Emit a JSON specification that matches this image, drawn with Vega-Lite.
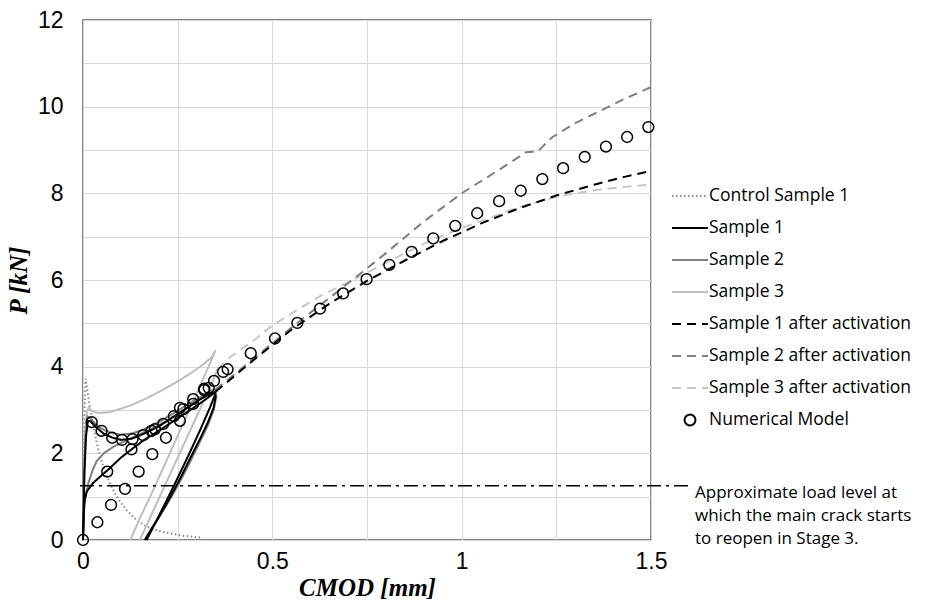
{
  "$schema": "https://vega.github.io/schema/vega-lite/v6.json",
  "width": 568,
  "height": 520,
  "autosize": {"type": "none"},
  "padding": {"left": 83, "top": 20, "right": 278, "bottom": 67},
  "background": "white",
  "config": {
    "view": {"stroke": "#595959", "strokeWidth": 1.5},
    "axis": {"labelFont": "Liberation Sans", "labelFontSize": 23, "labelColor": "#000", "ticks": false, "domain": false, "gridColor": "#d9d9d9", "gridWidth": 1, "titleColor": "#000"},
    "legend": {"labelFont": "Open Sans", "labelFontSize": 17.5, "labelColor": "#000", "labelLimit": 400}
  },
  "datasets": {
    "curves": [
      {"s":"Control Sample 1","p":"a","i":0,"x":0,"P":0},
      {"s":"Control Sample 1","p":"a","i":1,"x":0.002,"P":1.5},
      {"s":"Control Sample 1","p":"a","i":2,"x":0.004,"P":3.0},
      {"s":"Control Sample 1","p":"a","i":3,"x":0.007,"P":3.72},
      {"s":"Control Sample 1","p":"a","i":4,"x":0.01,"P":3.55},
      {"s":"Control Sample 1","p":"a","i":5,"x":0.018,"P":3.08},
      {"s":"Control Sample 1","p":"a","i":6,"x":0.03,"P":2.5},
      {"s":"Control Sample 1","p":"a","i":7,"x":0.04,"P":2.1},
      {"s":"Control Sample 1","p":"a","i":8,"x":0.055,"P":1.65},
      {"s":"Control Sample 1","p":"a","i":9,"x":0.071,"P":1.31},
      {"s":"Control Sample 1","p":"a","i":10,"x":0.09,"P":0.98},
      {"s":"Control Sample 1","p":"a","i":11,"x":0.115,"P":0.69},
      {"s":"Control Sample 1","p":"a","i":12,"x":0.14,"P":0.47},
      {"s":"Control Sample 1","p":"a","i":13,"x":0.168,"P":0.31},
      {"s":"Control Sample 1","p":"a","i":14,"x":0.2,"P":0.21},
      {"s":"Control Sample 1","p":"a","i":15,"x":0.23,"P":0.15},
      {"s":"Control Sample 1","p":"a","i":16,"x":0.27,"P":0.09},
      {"s":"Control Sample 1","p":"a","i":17,"x":0.31,"P":0.06},

      {"s":"Sample 3","p":"a","i":0,"x":0,"P":0},
      {"s":"Sample 3","p":"a","i":1,"x":0.003,"P":1.5},
      {"s":"Sample 3","p":"a","i":2,"x":0.006,"P":2.5},
      {"s":"Sample 3","p":"a","i":3,"x":0.01,"P":2.95},
      {"s":"Sample 3","p":"a","i":4,"x":0.015,"P":3.05},
      {"s":"Sample 3","p":"a","i":5,"x":0.025,"P":2.97},
      {"s":"Sample 3","p":"a","i":6,"x":0.04,"P":2.93},
      {"s":"Sample 3","p":"a","i":7,"x":0.07,"P":2.95},
      {"s":"Sample 3","p":"a","i":8,"x":0.1,"P":3.03},
      {"s":"Sample 3","p":"a","i":9,"x":0.13,"P":3.12},
      {"s":"Sample 3","p":"a","i":10,"x":0.17,"P":3.28},
      {"s":"Sample 3","p":"a","i":11,"x":0.21,"P":3.46},
      {"s":"Sample 3","p":"a","i":12,"x":0.25,"P":3.66},
      {"s":"Sample 3","p":"a","i":13,"x":0.29,"P":3.88},
      {"s":"Sample 3","p":"a","i":14,"x":0.32,"P":4.07},
      {"s":"Sample 3","p":"a","i":15,"x":0.34,"P":4.22},
      {"s":"Sample 3","p":"a","i":16,"x":0.35,"P":4.38},
      {"s":"Sample 3","p":"a","i":17,"x":0.331,"P":3.99},
      {"s":"Sample 3","p":"a","i":18,"x":0.3,"P":3.38},
      {"s":"Sample 3","p":"a","i":19,"x":0.26,"P":2.6},
      {"s":"Sample 3","p":"a","i":20,"x":0.22,"P":1.82},
      {"s":"Sample 3","p":"a","i":21,"x":0.18,"P":1.05},
      {"s":"Sample 3","p":"a","i":22,"x":0.15,"P":0.5},
      {"s":"Sample 3","p":"a","i":23,"x":0.125,"P":0},
      {"s":"Sample 3","p":"c","i":0,"x":0.15,"P":0},
      {"s":"Sample 3","p":"c","i":1,"x":0.2,"P":0.95},
      {"s":"Sample 3","p":"c","i":2,"x":0.25,"P":1.9},
      {"s":"Sample 3","p":"c","i":3,"x":0.3,"P":2.85},
      {"s":"Sample 3","p":"c","i":4,"x":0.34,"P":3.6},
      {"s":"Sample 3","p":"c","i":5,"x":0.355,"P":3.95},

      {"s":"Sample 2","p":"a","i":0,"x":0,"P":0},
      {"s":"Sample 2","p":"a","i":1,"x":0.003,"P":1.5},
      {"s":"Sample 2","p":"a","i":2,"x":0.007,"P":2.5},
      {"s":"Sample 2","p":"a","i":3,"x":0.012,"P":2.85},
      {"s":"Sample 2","p":"a","i":4,"x":0.02,"P":2.8},
      {"s":"Sample 2","p":"a","i":5,"x":0.04,"P":2.62},
      {"s":"Sample 2","p":"a","i":6,"x":0.06,"P":2.52},
      {"s":"Sample 2","p":"a","i":7,"x":0.08,"P":2.46},
      {"s":"Sample 2","p":"a","i":8,"x":0.1,"P":2.43},
      {"s":"Sample 2","p":"a","i":9,"x":0.13,"P":2.46},
      {"s":"Sample 2","p":"a","i":10,"x":0.16,"P":2.55},
      {"s":"Sample 2","p":"a","i":11,"x":0.2,"P":2.72},
      {"s":"Sample 2","p":"a","i":12,"x":0.24,"P":2.93},
      {"s":"Sample 2","p":"a","i":13,"x":0.28,"P":3.15},
      {"s":"Sample 2","p":"a","i":14,"x":0.31,"P":3.3},
      {"s":"Sample 2","p":"a","i":15,"x":0.34,"P":3.45},
      {"s":"Sample 2","p":"a","i":16,"x":0.35,"P":3.48},
      {"s":"Sample 2","p":"a","i":17,"x":0.352,"P":3.3},
      {"s":"Sample 2","p":"a","i":18,"x":0.345,"P":3.0},
      {"s":"Sample 2","p":"a","i":19,"x":0.33,"P":2.65},
      {"s":"Sample 2","p":"a","i":20,"x":0.305,"P":2.2},
      {"s":"Sample 2","p":"a","i":21,"x":0.28,"P":1.75},
      {"s":"Sample 2","p":"a","i":22,"x":0.25,"P":1.25},
      {"s":"Sample 2","p":"a","i":23,"x":0.22,"P":0.8},
      {"s":"Sample 2","p":"a","i":24,"x":0.19,"P":0.38},
      {"s":"Sample 2","p":"a","i":25,"x":0.165,"P":0},
      {"s":"Sample 2","p":"b","i":0,"x":0,"P":0},
      {"s":"Sample 2","p":"b","i":1,"x":0.003,"P":0.75},
      {"s":"Sample 2","p":"b","i":2,"x":0.008,"P":1.05},
      {"s":"Sample 2","p":"b","i":3,"x":0.014,"P":1.31},
      {"s":"Sample 2","p":"b","i":4,"x":0.025,"P":1.6},
      {"s":"Sample 2","p":"b","i":5,"x":0.036,"P":1.82},
      {"s":"Sample 2","p":"b","i":6,"x":0.055,"P":2.0},
      {"s":"Sample 2","p":"b","i":7,"x":0.08,"P":2.15},
      {"s":"Sample 2","p":"b","i":8,"x":0.11,"P":2.28},
      {"s":"Sample 2","p":"b","i":9,"x":0.14,"P":2.4},
      {"s":"Sample 2","p":"b","i":10,"x":0.18,"P":2.56},
      {"s":"Sample 2","p":"b","i":11,"x":0.22,"P":2.74},
      {"s":"Sample 2","p":"b","i":12,"x":0.26,"P":2.96},
      {"s":"Sample 2","p":"b","i":13,"x":0.3,"P":3.2},
      {"s":"Sample 2","p":"b","i":14,"x":0.35,"P":3.47},

      {"s":"Sample 1","p":"a","i":0,"x":0,"P":0},
      {"s":"Sample 1","p":"a","i":1,"x":0.004,"P":1.6},
      {"s":"Sample 1","p":"a","i":2,"x":0.008,"P":2.4},
      {"s":"Sample 1","p":"a","i":3,"x":0.013,"P":2.75},
      {"s":"Sample 1","p":"a","i":4,"x":0.02,"P":2.74},
      {"s":"Sample 1","p":"a","i":5,"x":0.035,"P":2.6},
      {"s":"Sample 1","p":"a","i":6,"x":0.055,"P":2.45},
      {"s":"Sample 1","p":"a","i":7,"x":0.075,"P":2.37},
      {"s":"Sample 1","p":"a","i":8,"x":0.1,"P":2.31},
      {"s":"Sample 1","p":"a","i":9,"x":0.13,"P":2.34},
      {"s":"Sample 1","p":"a","i":10,"x":0.16,"P":2.45},
      {"s":"Sample 1","p":"a","i":11,"x":0.2,"P":2.62},
      {"s":"Sample 1","p":"a","i":12,"x":0.24,"P":2.85},
      {"s":"Sample 1","p":"a","i":13,"x":0.28,"P":3.08},
      {"s":"Sample 1","p":"a","i":14,"x":0.31,"P":3.25},
      {"s":"Sample 1","p":"a","i":15,"x":0.335,"P":3.37},
      {"s":"Sample 1","p":"a","i":16,"x":0.348,"P":3.4},
      {"s":"Sample 1","p":"a","i":17,"x":0.35,"P":3.3},
      {"s":"Sample 1","p":"a","i":18,"x":0.345,"P":3.05},
      {"s":"Sample 1","p":"a","i":19,"x":0.33,"P":2.72},
      {"s":"Sample 1","p":"a","i":20,"x":0.31,"P":2.35},
      {"s":"Sample 1","p":"a","i":21,"x":0.285,"P":1.92},
      {"s":"Sample 1","p":"a","i":22,"x":0.26,"P":1.48},
      {"s":"Sample 1","p":"a","i":23,"x":0.23,"P":0.98},
      {"s":"Sample 1","p":"a","i":24,"x":0.2,"P":0.52},
      {"s":"Sample 1","p":"a","i":25,"x":0.18,"P":0.25},
      {"s":"Sample 1","p":"a","i":26,"x":0.163,"P":0},
      {"s":"Sample 1","p":"b","i":0,"x":0,"P":0},
      {"s":"Sample 1","p":"b","i":1,"x":0.002,"P":0.6},
      {"s":"Sample 1","p":"b","i":2,"x":0.004,"P":0.92},
      {"s":"Sample 1","p":"b","i":3,"x":0.01,"P":1.12},
      {"s":"Sample 1","p":"b","i":4,"x":0.026,"P":1.31},
      {"s":"Sample 1","p":"b","i":5,"x":0.045,"P":1.46},
      {"s":"Sample 1","p":"b","i":6,"x":0.066,"P":1.62},
      {"s":"Sample 1","p":"b","i":7,"x":0.1,"P":1.9},
      {"s":"Sample 1","p":"b","i":8,"x":0.128,"P":2.09},
      {"s":"Sample 1","p":"b","i":9,"x":0.16,"P":2.3},
      {"s":"Sample 1","p":"b","i":10,"x":0.2,"P":2.52},
      {"s":"Sample 1","p":"b","i":11,"x":0.24,"P":2.75},
      {"s":"Sample 1","p":"b","i":12,"x":0.28,"P":2.98},
      {"s":"Sample 1","p":"b","i":13,"x":0.32,"P":3.22},
      {"s":"Sample 1","p":"b","i":14,"x":0.35,"P":3.42},
      {"s":"Sample 1","p":"c","i":0,"x":0.168,"P":0},
      {"s":"Sample 1","p":"c","i":1,"x":0.2,"P":0.55},
      {"s":"Sample 1","p":"c","i":2,"x":0.24,"P":1.25},
      {"s":"Sample 1","p":"c","i":3,"x":0.28,"P":1.98},
      {"s":"Sample 1","p":"c","i":4,"x":0.31,"P":2.55},
      {"s":"Sample 1","p":"c","i":5,"x":0.335,"P":3.05},
      {"s":"Sample 1","p":"c","i":6,"x":0.35,"P":3.38},

      {"s":"Sample 3 after activation","p":"a","i":0,"x":0.355,"P":3.95},
      {"s":"Sample 3 after activation","p":"a","i":1,"x":0.39,"P":4.23},
      {"s":"Sample 3 after activation","p":"a","i":2,"x":0.45,"P":4.6},
      {"s":"Sample 3 after activation","p":"a","i":3,"x":0.5,"P":4.95},
      {"s":"Sample 3 after activation","p":"a","i":4,"x":0.56,"P":5.28},
      {"s":"Sample 3 after activation","p":"a","i":5,"x":0.62,"P":5.6},
      {"s":"Sample 3 after activation","p":"a","i":6,"x":0.7,"P":5.95},
      {"s":"Sample 3 after activation","p":"a","i":7,"x":0.78,"P":6.3},
      {"s":"Sample 3 after activation","p":"a","i":8,"x":0.85,"P":6.62},
      {"s":"Sample 3 after activation","p":"a","i":9,"x":0.92,"P":6.92},
      {"s":"Sample 3 after activation","p":"a","i":10,"x":1.0,"P":7.2},
      {"s":"Sample 3 after activation","p":"a","i":11,"x":1.08,"P":7.45},
      {"s":"Sample 3 after activation","p":"a","i":12,"x":1.15,"P":7.68},
      {"s":"Sample 3 after activation","p":"a","i":13,"x":1.25,"P":7.92},
      {"s":"Sample 3 after activation","p":"a","i":14,"x":1.35,"P":8.07},
      {"s":"Sample 3 after activation","p":"a","i":15,"x":1.43,"P":8.15},
      {"s":"Sample 3 after activation","p":"a","i":16,"x":1.5,"P":8.2},

      {"s":"Sample 2 after activation","p":"a","i":0,"x":0.35,"P":3.47},
      {"s":"Sample 2 after activation","p":"a","i":1,"x":0.45,"P":4.18},
      {"s":"Sample 2 after activation","p":"a","i":2,"x":0.55,"P":4.9},
      {"s":"Sample 2 after activation","p":"a","i":3,"x":0.65,"P":5.58},
      {"s":"Sample 2 after activation","p":"a","i":4,"x":0.74,"P":6.2},
      {"s":"Sample 2 after activation","p":"a","i":5,"x":0.8,"P":6.62},
      {"s":"Sample 2 after activation","p":"a","i":6,"x":0.9,"P":7.35},
      {"s":"Sample 2 after activation","p":"a","i":7,"x":1.0,"P":8.0},
      {"s":"Sample 2 after activation","p":"a","i":8,"x":1.1,"P":8.55},
      {"s":"Sample 2 after activation","p":"a","i":9,"x":1.17,"P":8.95},
      {"s":"Sample 2 after activation","p":"a","i":10,"x":1.2,"P":8.96},
      {"s":"Sample 2 after activation","p":"a","i":11,"x":1.24,"P":9.3},
      {"s":"Sample 2 after activation","p":"a","i":12,"x":1.3,"P":9.62},
      {"s":"Sample 2 after activation","p":"a","i":13,"x":1.37,"P":9.92},
      {"s":"Sample 2 after activation","p":"a","i":14,"x":1.43,"P":10.18},
      {"s":"Sample 2 after activation","p":"a","i":15,"x":1.5,"P":10.45},

      {"s":"Sample 1 after activation","p":"a","i":0,"x":0.35,"P":3.42},
      {"s":"Sample 1 after activation","p":"a","i":1,"x":0.45,"P":4.15},
      {"s":"Sample 1 after activation","p":"a","i":2,"x":0.55,"P":4.85},
      {"s":"Sample 1 after activation","p":"a","i":3,"x":0.65,"P":5.45},
      {"s":"Sample 1 after activation","p":"a","i":4,"x":0.75,"P":5.98},
      {"s":"Sample 1 after activation","p":"a","i":5,"x":0.85,"P":6.45},
      {"s":"Sample 1 after activation","p":"a","i":6,"x":0.95,"P":6.9},
      {"s":"Sample 1 after activation","p":"a","i":7,"x":1.05,"P":7.3},
      {"s":"Sample 1 after activation","p":"a","i":8,"x":1.15,"P":7.65},
      {"s":"Sample 1 after activation","p":"a","i":9,"x":1.25,"P":7.95},
      {"s":"Sample 1 after activation","p":"a","i":10,"x":1.35,"P":8.2},
      {"s":"Sample 1 after activation","p":"a","i":11,"x":1.43,"P":8.38},
      {"s":"Sample 1 after activation","p":"a","i":12,"x":1.5,"P":8.52}
    ],
    "model": [
      {"s":"Numerical Model","x":0,"P":0},
      {"s":"Numerical Model","x":0.038,"P":0.41},
      {"s":"Numerical Model","x":0.074,"P":0.81},
      {"s":"Numerical Model","x":0.111,"P":1.18},
      {"s":"Numerical Model","x":0.147,"P":1.58},
      {"s":"Numerical Model","x":0.183,"P":1.98},
      {"s":"Numerical Model","x":0.219,"P":2.36},
      {"s":"Numerical Model","x":0.256,"P":2.75},
      {"s":"Numerical Model","x":0.291,"P":3.14},
      {"s":"Numerical Model","x":0.32,"P":3.46},
      {"s":"Numerical Model","x":0.064,"P":1.58},
      {"s":"Numerical Model","x":0.128,"P":2.09},
      {"s":"Numerical Model","x":0.023,"P":2.72},
      {"s":"Numerical Model","x":0.049,"P":2.52},
      {"s":"Numerical Model","x":0.077,"P":2.36},
      {"s":"Numerical Model","x":0.103,"P":2.31},
      {"s":"Numerical Model","x":0.131,"P":2.33},
      {"s":"Numerical Model","x":0.159,"P":2.42},
      {"s":"Numerical Model","x":0.181,"P":2.52},
      {"s":"Numerical Model","x":0.19,"P":2.56},
      {"s":"Numerical Model","x":0.212,"P":2.68},
      {"s":"Numerical Model","x":0.24,"P":2.86},
      {"s":"Numerical Model","x":0.256,"P":3.05},
      {"s":"Numerical Model","x":0.265,"P":3.02},
      {"s":"Numerical Model","x":0.291,"P":3.25},
      {"s":"Numerical Model","x":0.32,"P":3.49},
      {"s":"Numerical Model","x":0.332,"P":3.51},
      {"s":"Numerical Model","x":0.346,"P":3.67},
      {"s":"Numerical Model","x":0.37,"P":3.88},
      {"s":"Numerical Model","x":0.382,"P":3.94},
      {"s":"Numerical Model","x":0.443,"P":4.31},
      {"s":"Numerical Model","x":0.507,"P":4.65},
      {"s":"Numerical Model","x":0.566,"P":5.01},
      {"s":"Numerical Model","x":0.626,"P":5.34},
      {"s":"Numerical Model","x":0.687,"P":5.69},
      {"s":"Numerical Model","x":0.749,"P":6.02},
      {"s":"Numerical Model","x":0.809,"P":6.35},
      {"s":"Numerical Model","x":0.868,"P":6.65},
      {"s":"Numerical Model","x":0.925,"P":6.96},
      {"s":"Numerical Model","x":0.983,"P":7.25},
      {"s":"Numerical Model","x":1.041,"P":7.54},
      {"s":"Numerical Model","x":1.099,"P":7.82},
      {"s":"Numerical Model","x":1.156,"P":8.06},
      {"s":"Numerical Model","x":1.213,"P":8.33},
      {"s":"Numerical Model","x":1.268,"P":8.58},
      {"s":"Numerical Model","x":1.325,"P":8.84},
      {"s":"Numerical Model","x":1.381,"P":9.08},
      {"s":"Numerical Model","x":1.437,"P":9.3},
      {"s":"Numerical Model","x":1.493,"P":9.53}
    ],
    "ref": [
      {"level": 1.25, "x0": -0.008, "x1": 1.6, "note": "Approximate load level at\nwhich the main crack starts\nto reopen in Stage 3."}
    ]
  },
  "layer": [
    {
      "data": {"name": "curves"},
      "mark": {"type": "line", "strokeWidth": 2},
      "encoding": {
        "x": {
          "field": "x", "type": "quantitative",
          "scale": {"domain": [0, 1.5], "nice": false, "zero": false},
          "axis": {
            "title": "CMOD [mm]", "titleFont": "Liberation Serif", "titleFontStyle": "italic", "titleFontWeight": "bold", "titleFontSize": 25, "titlePadding": 2,
            "values": [0, 0.25, 0.5, 0.75, 1, 1.25, 1.5],
            "labelExpr": "(datum.value * 4) % 2 == 0 ? format(datum.value, '~g') : ''",
            "labelFontSize": 23,
            "labelFlush": false, "labelPadding": 10, "labelOverlap": false
          }
        },
        "y": {
          "field": "P", "type": "quantitative",
          "scale": {"domain": [0, 12], "nice": false},
          "axis": {
            "title": "P [kN]", "titleFont": "Liberation Serif", "titleFontStyle": "italic", "titleFontWeight": "bold", "titleFontSize": 25, "titlePadding": 6,
            "values": [0, 1, 2, 3, 4, 5, 6, 7, 8, 9, 10, 11, 12],
            "labelExpr": "datum.value % 2 == 0 ? datum.label : ''",
            "labelFontSize": 23,
            "labelPadding": 20, "labelOverlap": false
          }
        },
        "color": {
          "field": "s", "type": "nominal",
          "scale": {
            "domain": ["Control Sample 1", "Sample 1", "Sample 2", "Sample 3", "Sample 1 after activation", "Sample 2 after activation", "Sample 3 after activation", "Numerical Model"],
            "range": ["#8c8c8c", "#000000", "#7f7f7f", "#bfbfbf", "#000000", "#7f7f7f", "#c8c8c8", "#000000"]
          },
          "legend": {
            "title": null, "orient": "none", "legendX": 588, "legendY": 160, "padding": 0,
            "clipHeight": 32, "rowPadding": 0, "labelOffset": 0, "symbolStrokeWidth": 2, "symbolSize": 1296,
            "symbolFillColor": "transparent"
          }
        },
        "strokeDash": {
          "field": "s", "type": "nominal",
          "scale": {
            "domain": ["Control Sample 1", "Sample 1", "Sample 2", "Sample 3", "Sample 1 after activation", "Sample 2 after activation", "Sample 3 after activation", "Numerical Model"],
            "range": [[1.5, 2.5], [1, 0], [1, 0], [1, 0], [9, 6], [9, 6], [9, 6], [1, 0]]
          }
        },
        "detail": {"field": "p"},
        "order": {"field": "i", "type": "quantitative"}
      }
    },
    {
      "data": {"name": "ref"},
      "mark": {"type": "rule", "color": "#000", "strokeWidth": 1.5, "strokeDash": [14, 5, 3, 5]},
      "encoding": {
        "y": {"field": "level", "type": "quantitative"},
        "x": {"field": "x0", "type": "quantitative"},
        "x2": {"field": "x1"}
      }
    },
    {
      "data": {"name": "ref"},
      "mark": {"type": "text", "align": "left", "baseline": "middle", "dx": 44, "dy": 7, "lineBreak": "\n", "lineHeight": 23, "font": "Open Sans", "fontSize": 17, "color": "#000"},
      "encoding": {
        "y": {"field": "level", "type": "quantitative"},
        "x": {"datum": 1.5, "type": "quantitative"},
        "text": {"field": "note"}
      }
    },
    {
      "data": {"name": "model"},
      "mark": {"type": "point", "filled": false, "strokeWidth": 1.5, "size": 1296, "opacity": 1},
      "encoding": {
        "x": {"field": "x", "type": "quantitative"},
        "y": {"field": "P", "type": "quantitative"},
        "color": {"field": "s", "type": "nominal"},
        "shape": {
          "field": "s", "type": "nominal",
          "scale": {
            "domain": ["Control Sample 1", "Sample 1", "Sample 2", "Sample 3", "Sample 1 after activation", "Sample 2 after activation", "Sample 3 after activation", "Numerical Model"],
            "range": ["stroke", "stroke", "stroke", "stroke", "stroke", "stroke", "stroke", "M -0.3 0 A 0.3 0.3 0 1 0 0.3 0 A 0.3 0.3 0 1 0 -0.3 0 Z"]
          }
        }
      }
    }
  ]
}
